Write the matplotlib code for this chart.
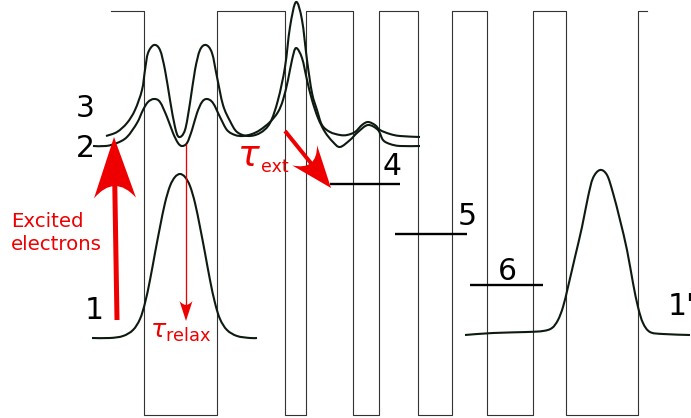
import numpy as np
import matplotlib
matplotlib.use("Agg")
import matplotlib.pyplot as plt
from matplotlib.path import Path
from matplotlib.patches import PathPatch

# ---------------- data (pixel-like schematic units, y downward) ----------------
# conduction-band profile: edges of alternating barrier (top) / well (bottom) segments
band_edges_x = [111, 144, 217, 285, 306, 353, 379, 418, 452, 487, 533, 566, 638, 647]
band_levels_y = [11, 415, 11, 415, 11, 415, 11, 415, 11, 415, 11, 415, 11, 11]

# wavefunction of level 1 (injector ground state)
wf1_x = [92, 110, 123, 133, 140, 145, 150, 155, 160, 165, 170, 175, 180, 185, 190, 195, 200, 205, 210, 215,
         220, 227, 237, 250, 257]
wf1_y = [338, 338, 336, 330, 319, 303, 280, 253, 227, 203, 186, 177, 174, 177, 186, 203, 227, 253, 280, 303,
         319, 330, 336, 338, 338]

# wavefunction of level 2
wf2_x = [93, 106, 117, 127, 137, 143, 148, 154, 160, 167, 173, 178, 182, 187, 192, 197, 202, 207, 213, 220, 227,
         235, 243, 252, 260, 270, 278, 283, 288, 292, 296, 302, 307, 312, 318, 325, 333, 340, 350, 358, 368, 378,
         383, 390, 400, 420]
wf2_y = [146, 146, 143, 137, 123, 110, 102, 99, 102, 117, 133, 143, 146, 143, 130, 113, 102, 99, 103, 117, 130,
         135, 136, 134, 130, 122, 112, 100, 80, 60, 48, 58, 80, 100, 118, 132, 142, 147, 140, 132, 125, 130,
         140, 144, 146, 146]

# wavefunction of level 3
wf3_x = [106, 117, 127, 135, 142, 145, 148, 154, 160, 165, 170, 175, 179, 185, 190, 195, 200, 206, 212, 217, 223,
         230, 237, 248, 260, 270, 278, 285, 290, 296, 302, 307, 312, 317, 322, 330, 340, 347, 355, 362, 368, 375,
         380, 390, 400, 420]
wf3_y = [136, 132, 123, 110, 90, 70, 53, 45, 50, 70, 100, 127, 137, 130, 103, 70, 50, 45, 53, 77, 105,
         121, 132, 136, 133, 123, 100, 67, 27, 2, 20, 60, 93, 110, 125, 132, 135, 135, 132, 125, 122, 125,
         130, 134, 136, 137]

# wavefunction of level 1' (next period)
wf1b_x = [465, 493, 527, 543, 552, 558, 563, 568, 575, 582, 588, 593, 600, 607, 613, 620, 627, 633, 638, 643, 650, 663, 690]
wf1b_y = [335, 333, 332, 331, 328, 320, 307, 287, 257, 227, 197, 178, 170, 175, 193, 220, 250, 283, 307, 323, 332, 334, 335]

# flat levels 4, 5, 6: (x start, x end, y)
level_names = ["4", "5", "6"]
level_x0 = [330, 395, 470]
level_x1 = [400, 467, 543]
level_y = [184, 234, 285]

# state labels: text, x centre, baseline y
label_text = ["3", "2", "1", "4", "5", "6"]
label_x = [85, 85, 94.5, 392.5, 467, 507.5]
label_y = [117, 157, 319, 175, 225, 280]

# arrows: tail (x, y) and tip (x, y)
arrow_excite = [(117, 320), (114, 137)]
arrow_ext = [(285, 131), (331, 188)]
arrow_relax = [(186, 144), (186, 321)]

W, H = 691, 418
RED = "#ee0000"
WF_COLOR = "#0c1a10"


def smooth_path(xs, ys):
    """Cubic Bezier path passing through the given points (Catmull-Rom tangents)."""
    p = np.column_stack([xs, ys]).astype(float)
    ext = np.vstack([p[0], p, p[-1]])
    verts = [p[0]]
    codes = [Path.MOVETO]
    for i in range(len(p) - 1):
        p0, p1, p2, p3 = ext[i], ext[i + 1], ext[i + 2], ext[i + 3]
        c1 = p1 + (p2 - p0) / 6.0
        c2 = p2 - (p3 - p1) / 6.0
        verts += [c1, c2, p2]
        codes += [Path.CURVE4] * 3
    return Path(verts, codes)


def fancy_arrow(ax, tail, tip, shaft_w, head_len, head_w, notch, color):
    tail = np.asarray(tail, float)
    tip = np.asarray(tip, float)
    d = tip - tail
    d /= np.hypot(*d)
    n = np.array([-d[1], d[0]])
    base = tip - head_len * d
    w1 = base + head_w / 2 * n
    w2 = base - head_w / 2 * n
    back = tip - (head_len - notch) * d
    ctrl = 2 * back - base
    verts = [tip, w1, ctrl, w2, tip, tip]
    codes = [Path.MOVETO, Path.LINETO, Path.CURVE3, Path.CURVE3, Path.LINETO, Path.CLOSEPOLY]
    ax.add_patch(PathPatch(Path(verts, codes), facecolor=color, edgecolor="none", zorder=5))
    ax.plot([tail[0], back[0] + d[0] * 2], [tail[1], back[1] + d[1] * 2], color=color,
            lw=shaft_w * 0.72, solid_capstyle="butt", zorder=5)


fig = plt.figure(figsize=(W / 100, H / 100), dpi=100)
ax = fig.add_axes([0, 0, 1, 1])
ax.set_xlim(0, W)
ax.set_ylim(H, 0)
ax.axis("off")

# band profile
ax.plot(band_edges_x, band_levels_y, drawstyle="steps-post", color="#333333", lw=0.8, zorder=1)

# wavefunctions
for xs, ys in [(wf1_x, wf1_y), (wf2_x, wf2_y), (wf3_x, wf3_y), (wf1b_x, wf1b_y)]:
    ax.add_patch(PathPatch(smooth_path(xs, ys), facecolor="none", edgecolor=WF_COLOR,
                           lw=1.5, zorder=3, joinstyle="round"))

# flat levels
for x0, x1, y in zip(level_x0, level_x1, level_y):
    ax.plot([x0, x1], [y, y], color="black", lw=1.7, zorder=3, solid_capstyle="butt")

# labels
for t, x, y in zip(label_text, label_x, label_y):
    ax.text(x, y, t, fontsize=21.5, ha="center", va="baseline", color="black", family="DejaVu Sans")
ax.text(668, 315, "1'", fontsize=21.5, ha="left", va="baseline", color="black", family="DejaVu Sans")

# arrows
fancy_arrow(ax, *arrow_excite, shaft_w=5, head_len=61, head_w=42, notch=12, color=RED)
fancy_arrow(ax, *arrow_ext, shaft_w=4, head_len=42, head_w=32, notch=10, color=RED)
fancy_arrow(ax, *arrow_relax, shaft_w=1.3, head_len=20, head_w=13, notch=4, color=RED)

# red texts
ax.text(11, 227, "Excited", fontsize=14.2, ha="left", va="baseline", color=RED)
ax.text(11, 250, "electrons", fontsize=14.2, ha="left", va="baseline", color=RED)
ax.text(237, 166, r"$\tau$", fontsize=26, ha="left", va="baseline", color=RED)
ax.text(261, 172, "ext", fontsize=12.5, ha="left", va="baseline", color=RED)
ax.text(150, 338, r"$\tau_{\mathrm{relax}}$", fontsize=18.3, ha="left", va="baseline", color=RED)

fig.savefig("out.png", dpi=100)
